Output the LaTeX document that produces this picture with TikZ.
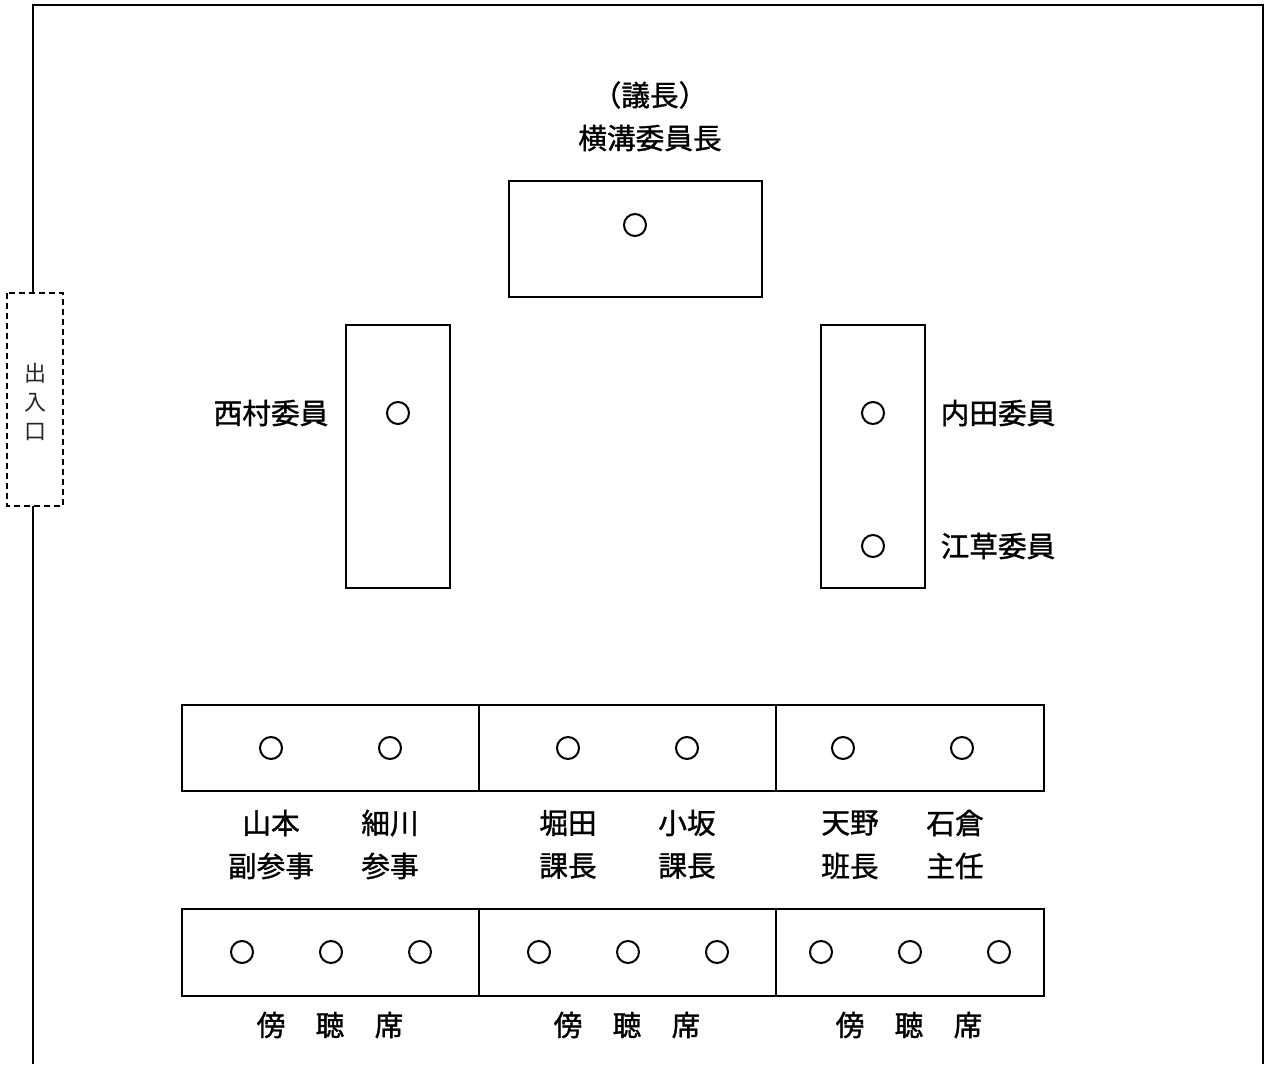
\documentclass[tikz,border=0pt]{standalone}
\usepackage{fontspec}
\newfontfamily\jp[FakeBold=1.2]{Noto Sans CJK JP}
\newfontfamily\jpl{Noto Sans CJK JP}
\begin{document}
\begin{tikzpicture}[x=0.75pt,y=-0.75pt,
  tbl/.style={draw,line width=1.7pt,inner sep=0pt},
  lbl/.style={font=\jp\fontsize{21.5pt}{24pt}\selectfont,inner sep=0pt},
  entl/.style={font=\jpl\fontsize{16.5pt}{18pt}\selectfont,inner sep=0pt,text=black!85},
  seat/.style={circle,draw,line width=1.5pt,minimum size=16.5pt,inner sep=0pt},
  wall/.style={line width=1.6pt}]
\useasboundingbox (0,0) rectangle (1267,1064);
% walls
\coordinate (w1) at (33,293);
\coordinate (w2) at (33,5);
\coordinate (w3) at (1263,5);
\coordinate (w4) at (1263,1064);
\coordinate (w5) at (33,506);
\coordinate (w6) at (33,1064);
\draw[wall] (w1) -- (w2) -- (w3) -- (w4);
\draw[wall] (w5) -- (w6);
% entrance
\draw[line width=1.3pt,dash pattern=on 4.5pt off 3pt] (7,293) rectangle (63,506);
\node[entl] (ent1) at (35,373) {出};
\node[entl] (ent2) at (35,403) {入};
\node[entl] (ent3) at (35,432) {口};
% chair
\draw[tbl] (509,181) rectangle (762,297);
\node[seat] (c0) at (635,225) {};
\node[lbl] (t1) at (650,95) {（議長）};
\node[lbl] (t2) at (650,138) {横溝委員長};
% side tables
\draw[tbl] (346,325) rectangle (450,588);
\draw[tbl] (821,325) rectangle (925,588);
\node[seat] (s1) at (398,413) {};
\node[seat] (s2) at (873,413) {};
\node[seat] (s3) at (873,546) {};
\node[lbl] (n1) at (271,413) {西村委員};
\node[lbl] (n2) at (998,413) {内田委員};
\node[lbl] (n3) at (998,546) {江草委員};
% row 1
\draw[tbl] (182,705) rectangle (479,791);
\draw[tbl] (479,705) rectangle (776,791);
\draw[tbl] (776,705) rectangle (1044,791);
\foreach \x [count=\i] in {271,390,568,687,843,962}
  \node[seat] (r\i) at (\x,748) {};
\node[lbl] (a1) at (271,823) {山本};
\node[lbl] (a2) at (390,823) {細川};
\node[lbl] (a3) at (568,823) {堀田};
\node[lbl] (a4) at (687,823) {小坂};
\node[lbl] (a5) at (850,823) {天野};
\node[lbl] (a6) at (955,823) {石倉};
\node[lbl] (b1) at (271,866) {副参事};
\node[lbl] (b2) at (390,866) {参事};
\node[lbl] (b3) at (568,866) {課長};
\node[lbl] (b4) at (687,866) {課長};
\node[lbl] (b5) at (850,866) {班長};
\node[lbl] (b6) at (955,866) {主任};
% row 2
\draw[tbl] (182,909) rectangle (479,996);
\draw[tbl] (479,909) rectangle (776,996);
\draw[tbl] (776,909) rectangle (1044,996);
\foreach \x [count=\i] in {242,331,420,539,628,717,821,910,999}
  \node[seat] (p\i) at (\x,952) {};
\foreach \x [count=\i] in {271,568,850}{
  \node[lbl] (g\i a) at (\x,1025) {傍};
  \node[lbl] (g\i b) at (\x+59,1025) {聴};
  \node[lbl] (g\i c) at (\x+118,1025) {席};
}
\end{tikzpicture}
\end{document}
